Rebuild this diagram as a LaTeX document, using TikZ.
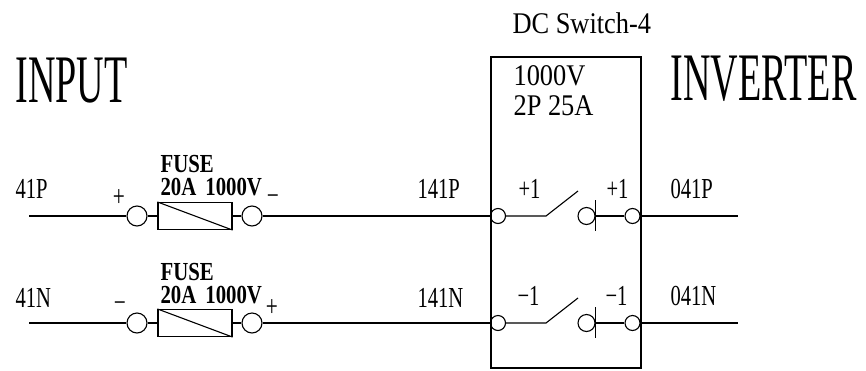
\documentclass[tikz,border=0pt]{standalone}
\usepackage{fontspec}
\setmainfont{Liberation Serif}
\newfontfamily\cadfont[FakeStretch=0.71]{Liberation Serif}
\newfontfamily\cadwide[FakeStretch=0.88]{Liberation Serif}
\newfontfamily\cadtitle[FakeStretch=0.56]{Liberation Serif}
\newfontfamily\cadbold[FakeStretch=0.8]{Liberation Serif}
\newcommand{\TermI}[2][]{\node[circle, draw, inner sep=0pt, minimum size=20pt, #1] (#2) {};}
\newcommand{\TermII}[2][]{\node[circle, draw, inner sep=0pt, minimum size=15pt, #1] (#2) {};}
\newcommand{\FuseI}[2][]{\node[rectangle, draw, inner sep=0pt, minimum width=74pt, minimum height=27pt, #1] (#2) {};}
\newcommand{\LabelI}[3][]{\node[anchor=base west, inner sep=0pt, font=\cadfont\fontsize{29}{29}\selectfont, #1] (#2) {#3};}
\newcommand{\LabelII}[3][]{\node[anchor=base west, inner sep=0pt, text height=17pt, text depth=0pt, font=\cadbold\bfseries\fontsize{26}{26}\selectfont, #1] (#2) {#3};}
\newcommand{\SignI}[3][]{\node[inner sep=0pt, font=\cadfont\fontsize{30}{30}\selectfont, #1] (#2) {#3};}

\begin{document}
\begin{tikzpicture}[x=1pt, y=-1pt, line width=1.1pt]
\useasboundingbox (0,0) rectangle (866,370);

\node[anchor=base west, inner sep=0pt, font=\cadtitle\fontsize{68}{68}\selectfont] (IN) at (15,102) {INPUT};
\node[anchor=base west, inner sep=0pt, font=\cadtitle\fontsize{68}{68}\selectfont] (INV) at (670,100) {INVERTER};
\node[anchor=base west, inner sep=0pt, font=\cadwide\fontsize{30}{30}\selectfont] (DCS) at (512,33) {DC Switch-4};

\node[draw, line width=2pt, inner sep=0pt, minimum width=150pt, minimum height=311pt] (SW) at (566,212.5) {};
\node[anchor=base west, inner sep=0pt, font=\cadwide\fontsize{30}{30}\selectfont] (SWV) at (513,85) {1000V};
\node[anchor=base west, inner sep=0pt, font=\cadwide\fontsize{30}{30}\selectfont] (SWA) at (513,115) {2P 25A};

\begin{scope}
\coordinate (PW) at (29,216);
\coordinate (PE) at (738,216);
\coordinate (PS) at (546,216);
\coordinate (PT) at (578,191);

\TermI[at={(137,216)}]{PA}
\FuseI[at={(195,216)}]{PF}
\TermI[at={(252,216)}]{PB}
\TermII[at={(498,216)}]{PC}
\node[circle, draw, inner sep=0pt, minimum size=17pt] (PK) at (586.5,216) {};
\TermII[at={(632.5,216)}]{PD}

\LabelI[at={(15,198)}]{PL1}{41P}
\LabelI[at={(417,198)}]{PL2}{141P}
\LabelI[at={(518,198)}]{PL3}{+1}
\LabelI[at={(606,198)}]{PL4}{+1}
\LabelI[at={(670,198)}]{PL5}{041P}
\LabelII[at={(160,172)}]{PF1}{FUSE}
\LabelII[at={(160,195)}]{PF2}{20A\hspace{9pt}1000V}
\SignI[at={(119,198)}]{PP}{+}
\SignI[at={(273,200)}]{PM}{−}

\draw (PW) -- (PA);
\draw (PA) -- (PF) -- (PB);
\draw (PF.north west) -- (PF.south east);
\draw (PB) -- (PC);
\draw (PC) -- (PS) -- (PT);
\draw (PK.east) ++(0,-16) -- ++(0,31);
\draw (PK.east) -- (PD);
\draw (PD) -- (PE);
\end{scope}

\begin{scope}[yshift=-107pt]
\coordinate (NW) at (29,216);
\coordinate (NE) at (738,216);
\coordinate (NS) at (546,216);
\coordinate (NT) at (578,191);

\TermI[at={(137,216)}]{NA}
\FuseI[at={(195,216)}]{NF}
\TermI[at={(252,216)}]{NB}
\TermII[at={(498,216)}]{NC}
\node[circle, draw, inner sep=0pt, minimum size=17pt] (NK) at (586.5,216) {};
\TermII[at={(632.5,216)}]{ND}

\LabelI[at={(15,200)}]{NL1}{41N}
\LabelI[at={(417,200)}]{NL2}{141N}
\LabelI[at={(517,198)}]{NL3}{−1}
\LabelI[at={(605,198)}]{NL4}{−1}
\LabelI[at={(670,198)}]{NL5}{041N}
\LabelII[at={(160,173)}]{NF1}{FUSE}
\LabelII[at={(160,196)}]{NF2}{20A\hspace{9pt}1000V}
\SignI[at={(120,200)}]{NM}{−}
\SignI[at={(272,201)}]{NP}{+}

\draw (NW) -- (NA);
\draw (NA) -- (NF) -- (NB);
\draw (NF.north west) -- (NF.south east);
\draw (NB) -- (NC);
\draw (NC) -- (NS) -- (NT);
\draw (NK.east) ++(0,-16) -- ++(0,31);
\draw (NK.east) -- (ND);
\draw (ND) -- (NE);
\end{scope}
\end{tikzpicture}
\end{document}
